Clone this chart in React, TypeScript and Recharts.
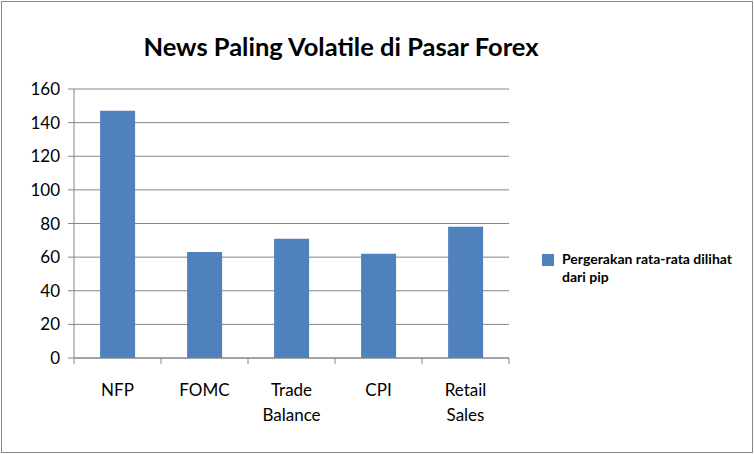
import { Bar, BarChart, CartesianGrid, XAxis, YAxis } from "recharts";

// kategori berita dan rata-rata pergerakan (pip)
const categories = ["NFP", "FOMC", "Trade Balance", "CPI", "Retail Sales"];
const pips = [147, 63, 71, 62, 78];
const yTicks = [0, 20, 40, 60, 80, 100, 120, 140, 160];

const SERIES_NAME = "Pergerakan rata-rata dilihat dari pip";
const data = categories.map((name, i) => ({ name, value: pips[i] }));

const W = 754;
const H = 454;
const PLOT_LEFT = 74;
const PLOT_RIGHT = 509;
const PLOT_TOP = 89;
const PLOT_BOTTOM = 358;
const BAND = (PLOT_RIGHT - PLOT_LEFT) / categories.length;
const AXIS_COLOR = "#868686";
const FONT = "Lato, 'Open Sans', sans-serif";

function CategoryTick(props: any) {
  const { x, y, payload, index } = props;
  const words = String(payload.value).split(" ");
  const left = x - BAND / 2;
  return (
    <g>
      <line x1={left} y1={y - 8} x2={left} y2={y - 2} stroke={AXIS_COLOR} />
      {index === categories.length - 1 && (
        <line x1={left + BAND} y1={y - 8} x2={left + BAND} y2={y - 2} stroke={AXIS_COLOR} />
      )}
      <text x={x} y={y + 30} textAnchor="middle" fontSize={17} fill="#000" fontFamily={FONT}>
        {words.map((w, i) => (
          <tspan key={i} x={x} dy={i === 0 ? 0 : 25}>
            {w}
          </tspan>
        ))}
      </text>
    </g>
  );
}

function LegendBox() {
  return (
    <div
      style={{
        position: "absolute",
        left: 542,
        top: 250,
        display: "flex",
        alignItems: "flex-start",
        fontFamily: FONT,
      }}
    >
      <div style={{ width: 12, height: 12, background: "#4F81BD", marginTop: 4, marginRight: 8 }} />
      <div style={{ fontSize: 14, fontWeight: 700, lineHeight: "18px", width: 190, color: "#000" }}>
        Pergerakan rata-rata dilihat
        <br />
        dari pip
      </div>
    </div>
  );
}

export default function App() {
  return (
    <div style={{ position: "absolute", left: 0, top: 0, width: W, height: H, background: "#fff" }}>
      <div
        style={{
          position: "absolute",
          left: 1,
          top: 1,
          width: W - 4,
          height: H - 4,
          border: `1px solid ${AXIS_COLOR}`,
        }}
      />
      <div
        style={{
          position: "absolute",
          left: 0,
          width: 682,
          top: 31,
          textAlign: "center",
          fontFamily: FONT,
          fontWeight: 700,
          fontSize: 25.5,
          color: "#000",
        }}
      >
        News Paling Volatile di Pasar Forex
      </div>
      <BarChart
        width={W}
        height={H}
        data={data}
        margin={{ top: PLOT_TOP, right: W - PLOT_RIGHT, bottom: 0, left: 0 }}
        barCategoryGap="30%"
        style={{ position: "absolute", left: 0, top: 0 }}
      >
        <CartesianGrid horizontal vertical={false} stroke={AXIS_COLOR} />
        <XAxis
          dataKey="name"
          height={H - PLOT_BOTTOM}
          interval={0}
          tickLine={false}
          axisLine={{ stroke: AXIS_COLOR }}
          tick={<CategoryTick />}
        />
        <YAxis
          domain={[0, 160]}
          ticks={yTicks}
          width={PLOT_LEFT}
          tickSize={6}
          tickMargin={8}
          axisLine={{ stroke: AXIS_COLOR }}
          tickLine={{ stroke: AXIS_COLOR }}
          tick={{ fontSize: 17, fill: "#000", fontFamily: FONT }}
        />
        <Bar dataKey="value" name={SERIES_NAME} fill="#4F81BD" isAnimationActive={false} />
      </BarChart>
      <LegendBox />
    </div>
  );
}
